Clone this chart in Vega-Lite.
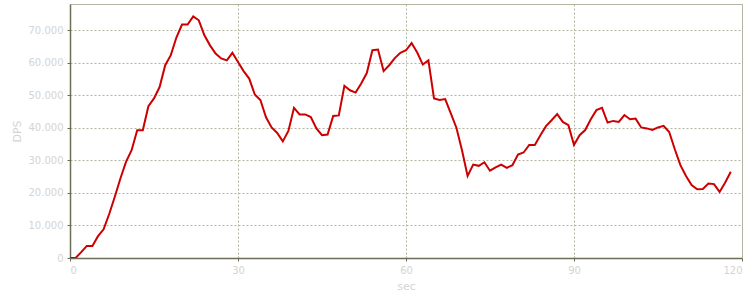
{
  "$schema": "https://vega.github.io/schema/vega-lite/v6.json",
  "width": 672,
  "height": 254,
  "autosize": "none",
  "padding": {"left": 70, "top": 4, "right": 8, "bottom": 42},
  "background": "white",
  "config": {
    "locale": {"number": {"decimal": ",", "thousands": ".", "grouping": [3], "currency": ["", ""]}},
    "view": {"stroke": "#b4b4a4", "strokeWidth": 1},
    "font": "DejaVu Sans",
    "axis": {
      "labelColor": "#d4d4d4",
      "titleColor": "#d4d4d4",
      "labelFontSize": 10,
      "titleFontSize": 11,
      "titleFontWeight": "normal",
      "domainColor": "#6e6e56",
      "domainWidth": 1.5,
      "tickColor": "#6e6e56",
      "tickSize": 3,
      "gridColor": "#b4b4a0",
      "gridDash": [2, 2],
      "gridWidth": 1
    }
  },
  "data": {
    "values": [
      {"sec": 0, "dps": 0}, {"sec": 1, "dps": 0}, {"sec": 2, "dps": 1800}, {"sec": 3, "dps": 3700},
      {"sec": 4, "dps": 3700}, {"sec": 5, "dps": 6700}, {"sec": 6, "dps": 8800}, {"sec": 7, "dps": 13500},
      {"sec": 8, "dps": 18800}, {"sec": 9, "dps": 24400}, {"sec": 10, "dps": 29500}, {"sec": 11, "dps": 33100},
      {"sec": 12, "dps": 39200}, {"sec": 13, "dps": 39200}, {"sec": 14, "dps": 46600}, {"sec": 15, "dps": 49000},
      {"sec": 16, "dps": 52500}, {"sec": 17, "dps": 59200}, {"sec": 18, "dps": 62300}, {"sec": 19, "dps": 67700},
      {"sec": 20, "dps": 71700}, {"sec": 21, "dps": 71700}, {"sec": 22, "dps": 74200}, {"sec": 23, "dps": 73000},
      {"sec": 24, "dps": 68400}, {"sec": 25, "dps": 65300}, {"sec": 26, "dps": 62800}, {"sec": 27, "dps": 61300},
      {"sec": 28, "dps": 60700}, {"sec": 29, "dps": 63000}, {"sec": 30, "dps": 60200}, {"sec": 31, "dps": 57400},
      {"sec": 32, "dps": 55100}, {"sec": 33, "dps": 50200}, {"sec": 34, "dps": 48500}, {"sec": 35, "dps": 43200},
      {"sec": 36, "dps": 40100}, {"sec": 37, "dps": 38400}, {"sec": 38, "dps": 35800}, {"sec": 39, "dps": 39000},
      {"sec": 40, "dps": 46100}, {"sec": 41, "dps": 44100}, {"sec": 42, "dps": 44100}, {"sec": 43, "dps": 43300},
      {"sec": 44, "dps": 39800}, {"sec": 45, "dps": 37700}, {"sec": 46, "dps": 37900}, {"sec": 47, "dps": 43600},
      {"sec": 48, "dps": 43800}, {"sec": 49, "dps": 52900}, {"sec": 50, "dps": 51500}, {"sec": 51, "dps": 50800},
      {"sec": 52, "dps": 53600}, {"sec": 53, "dps": 56800}, {"sec": 54, "dps": 63800}, {"sec": 55, "dps": 64000},
      {"sec": 56, "dps": 57400}, {"sec": 57, "dps": 59200}, {"sec": 58, "dps": 61400}, {"sec": 59, "dps": 63000},
      {"sec": 60, "dps": 63800}, {"sec": 61, "dps": 66000}, {"sec": 62, "dps": 63100}, {"sec": 63, "dps": 59400},
      {"sec": 64, "dps": 60700}, {"sec": 65, "dps": 49000}, {"sec": 66, "dps": 48500}, {"sec": 67, "dps": 48800},
      {"sec": 68, "dps": 44400}, {"sec": 69, "dps": 40000}, {"sec": 70, "dps": 33100}, {"sec": 71, "dps": 25200},
      {"sec": 72, "dps": 28700}, {"sec": 73, "dps": 28300}, {"sec": 74, "dps": 29400}, {"sec": 75, "dps": 26800},
      {"sec": 76, "dps": 27800}, {"sec": 77, "dps": 28700}, {"sec": 78, "dps": 27700}, {"sec": 79, "dps": 28500},
      {"sec": 80, "dps": 31800}, {"sec": 81, "dps": 32400}, {"sec": 82, "dps": 34700}, {"sec": 83, "dps": 34700},
      {"sec": 84, "dps": 37700}, {"sec": 85, "dps": 40500}, {"sec": 86, "dps": 42300}, {"sec": 87, "dps": 44200},
      {"sec": 88, "dps": 41800}, {"sec": 89, "dps": 40800}, {"sec": 90, "dps": 34700}, {"sec": 91, "dps": 37700},
      {"sec": 92, "dps": 39300}, {"sec": 93, "dps": 42600}, {"sec": 94, "dps": 45400}, {"sec": 95, "dps": 46100},
      {"sec": 96, "dps": 41600}, {"sec": 97, "dps": 42100}, {"sec": 98, "dps": 41800}, {"sec": 99, "dps": 43900},
      {"sec": 100, "dps": 42600}, {"sec": 101, "dps": 42800}, {"sec": 102, "dps": 40100}, {"sec": 103, "dps": 39800},
      {"sec": 104, "dps": 39300}, {"sec": 105, "dps": 40100}, {"sec": 106, "dps": 40600}, {"sec": 107, "dps": 38700},
      {"sec": 108, "dps": 33400}, {"sec": 109, "dps": 28500}, {"sec": 110, "dps": 25200}, {"sec": 111, "dps": 22400},
      {"sec": 112, "dps": 21100}, {"sec": 113, "dps": 21200}, {"sec": 114, "dps": 22900}, {"sec": 115, "dps": 22700},
      {"sec": 116, "dps": 20300}, {"sec": 117, "dps": 23200}, {"sec": 118, "dps": 26500}
    ]
  },
  "mark": {"type": "line", "color": "#cc0000", "strokeWidth": 2, "clip": true},
  "encoding": {
    "x": {
      "field": "sec", "type": "quantitative",
      "scale": {"domain": [0, 120], "nice": false, "zero": false},
      "axis": {"values": [0, 30, 60, 90, 120], "title": "sec", "titlePadding": 5, "labelPadding": 4, "labelOverlap": false}
    },
    "y": {
      "field": "dps", "type": "quantitative",
      "scale": {"domain": [0, 78000], "nice": false},
      "axis": {"values": [0, 10000, 20000, 30000, 40000, 50000, 60000, 70000], "format": ",d", "title": "DPS", "titlePadding": 6, "labelPadding": 4}
    }
  }
}
